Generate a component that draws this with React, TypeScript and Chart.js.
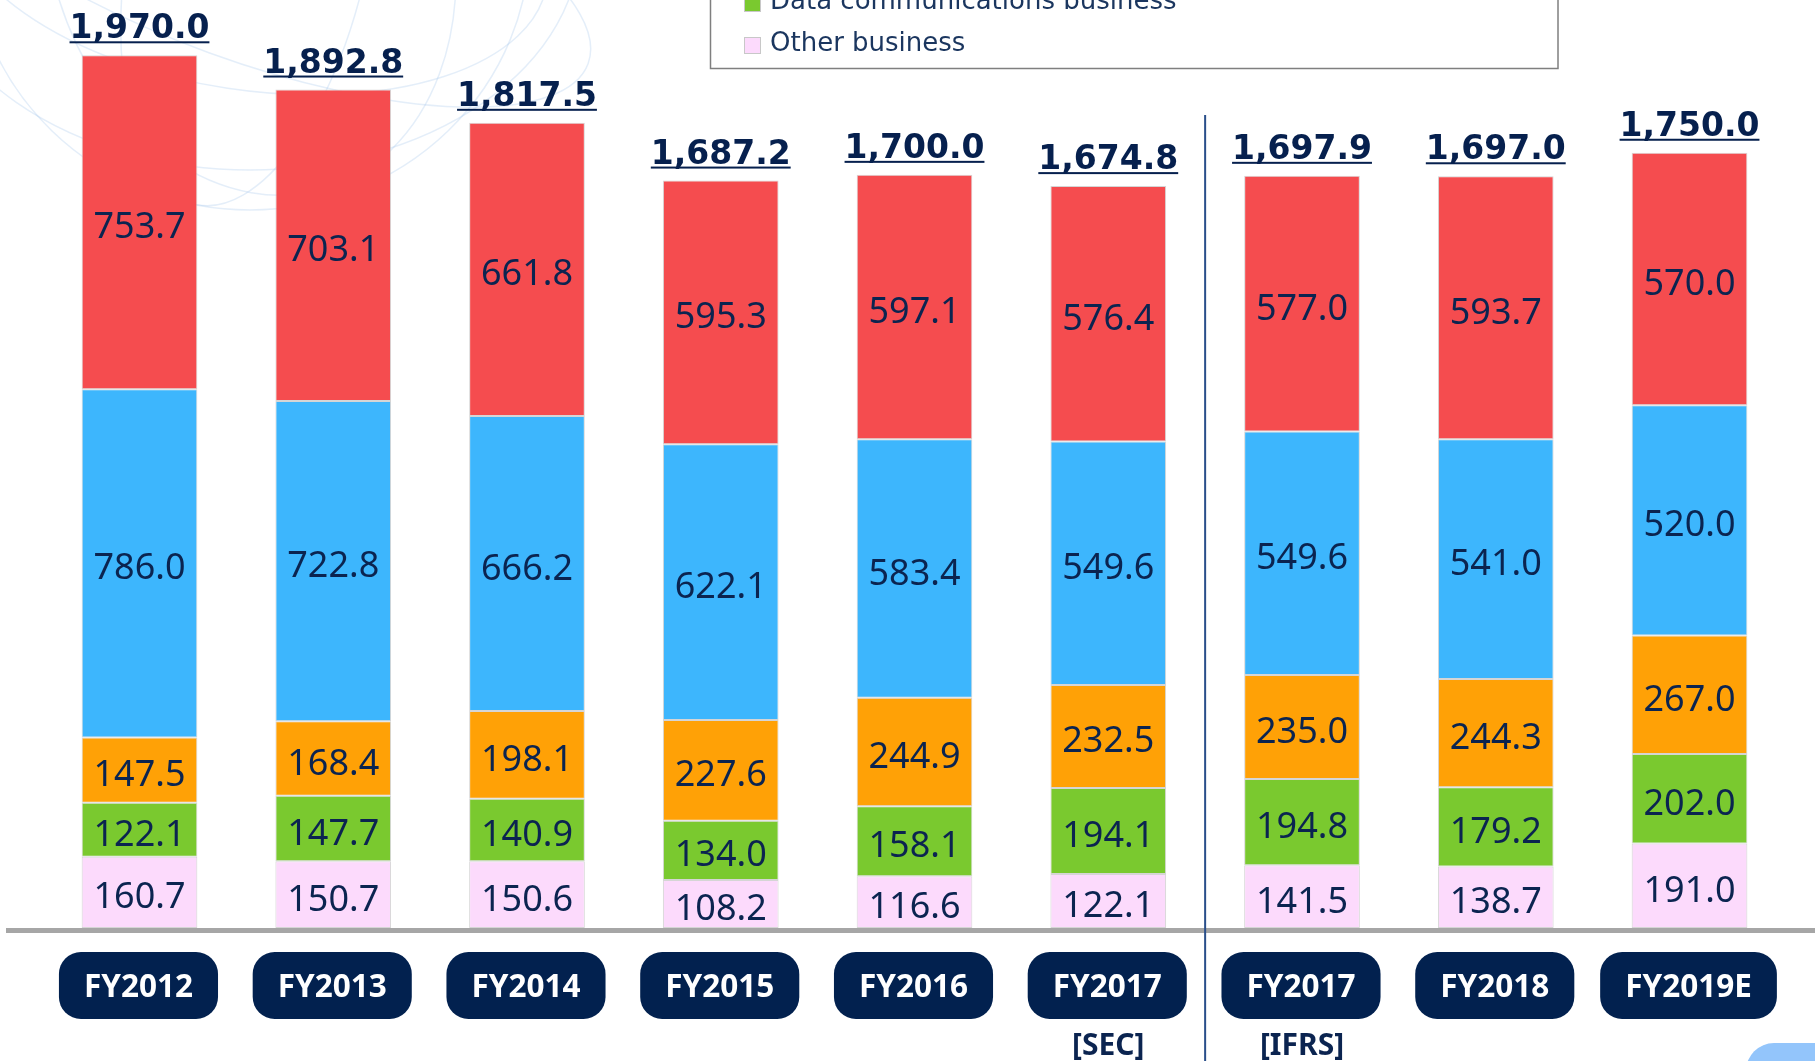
import React, { useEffect, useRef } from "react";
import { Chart, registerables } from "chart.js";

Chart.register(...registerables);

const categories = ["FY2012", "FY2013", "FY2014", "FY2015", "FY2016", "FY2017", "FY2017", "FY2018", "FY2019E"];
const subLabels = ["", "", "", "", "", "[SEC]", "[IFRS]", "", ""];

const otherBusiness = [160.7, 150.7, 150.6, 108.2, 116.6, 122.1, 141.5, 138.7, 191.0];
const dataComm = [122.1, 147.7, 140.9, 134.0, 158.1, 194.1, 194.8, 179.2, 202.0];
const longDistance = [147.5, 168.4, 198.1, 227.6, 244.9, 232.5, 235.0, 244.3, 267.0];
const regional = [786.0, 722.8, 666.2, 622.1, 583.4, 549.6, 549.6, 541.0, 520.0];
const mobile = [753.7, 703.1, 661.8, 595.3, 597.1, 576.4, 577.0, 593.7, 570.0];
const totals = [1970.0, 1892.8, 1817.5, 1687.2, 1700.0, 1674.8, 1697.9, 1697.0, 1750.0];

const seriesNames = [
  "Other business",
  "Data communications business",
  "Long distance and international communications business",
  "Regional communications business",
  "Mobile communications business",
];
const seriesColors = ["#fcdafc", "#7ac92f", "#ffa106", "#3db6fd", "#f54c4f"];

const NAVY = "#0b2450";

function roundRectPath(ctx: CanvasRenderingContext2D, x: number, y: number, w: number, h: number, r: number) {
  ctx.beginPath();
  ctx.moveTo(x + r, y);
  ctx.lineTo(x + w - r, y);
  ctx.arcTo(x + w, y, x + w, y + r, r);
  ctx.lineTo(x + w, y + h - r);
  ctx.arcTo(x + w, y + h, x + w - r, y + h, r);
  ctx.lineTo(x + r, y + h);
  ctx.arcTo(x, y + h, x, y + h - r, r);
  ctx.lineTo(x, y + r);
  ctx.arcTo(x, y, x + r, y, r);
  ctx.closePath();
}

const fmt = (v: number) =>
  v.toLocaleString("en-US", { minimumFractionDigits: 1, maximumFractionDigits: 1 });

const overlayPlugin = {
  id: "overlay",
  beforeDraw(chart: any) {
    const ctx: CanvasRenderingContext2D = chart.ctx;
    ctx.save();
    ctx.strokeStyle = "rgba(165,198,235,0.3)";
    ctx.lineWidth = 1.5;
    const arcs = [
      [250, -60, 330, 230, 0],
      [250, -60, 300, 150, 0.15],
      [250, -60, 200, 260, -0.3],
      [250, -60, 360, 120, 0.35],
      [250, -60, 120, 270, 0.2],
      [250, -60, 280, 270, 0],
    ];
    arcs.forEach(([cx, cy, rx, ry, rot]) => {
      ctx.beginPath();
      ctx.ellipse(cx, cy, rx, ry, rot, 0, Math.PI * 2);
      ctx.stroke();
    });
    ctx.restore();
  },
  afterDatasetsDraw(chart: any) {
    const ctx: CanvasRenderingContext2D = chart.ctx;
    const xScale = chart.scales.x;
    const nDs = chart.data.datasets.length;
    ctx.save();

    // segment labels
    ctx.font = "36px 'Noto Sans'";
    ctx.fillStyle = NAVY;
    ctx.textAlign = "center";
    ctx.textBaseline = "alphabetic";
    for (let d = 0; d < nDs; d++) {
      const meta = chart.getDatasetMeta(d);
      const data = chart.data.datasets[d].data as number[];
      meta.data.forEach((bar: any, i: number) => {
        const cy = (bar.y + bar.base) / 2;
        ctx.fillText(fmt(data[i]), bar.x, cy + 16);
      });
    }

    // totals
    const topMeta = chart.getDatasetMeta(nDs - 1);
    ctx.font = "bold 33px 'DejaVu Sans'";
    ctx.fillStyle = "#06204e";
    topMeta.data.forEach((bar: any, i: number) => {
      const txt = fmt(totals[i]);
      const base = bar.y - 17;
      ctx.fillText(txt, bar.x, base);
      const w = ctx.measureText(txt).width;
      ctx.fillRect(bar.x - w / 2, base + 3, w, 2);
    });

    // baseline
    const bottom = chart.chartArea.bottom;
    ctx.fillStyle = "#a6a6a6";
    ctx.fillRect(6, bottom, chart.width - 6, 5);

    // divider between SEC and IFRS
    const xDiv = (xScale.getPixelForValue(5) + xScale.getPixelForValue(6)) / 2;
    ctx.fillStyle = "#2a4f8a";
    ctx.fillRect(xDiv - 1, 115, 2, chart.height - 115);

    // category pills
    ctx.font = "bold 31.5px 'Noto Sans'";
    categories.forEach((c, i) => {
      const cx = xScale.getPixelForValue(i) - 1;
      const w = ctx.measureText(c).width + 50;
      ctx.fillStyle = "#02214f";
      roundRectPath(ctx, cx - w / 2, 952, w, 67, 22);
      ctx.fill();
      ctx.fillStyle = "#ffffff";
      ctx.fillText(c, cx, 997);
    });

    // sub labels
    ctx.font = "bold 30px 'Noto Sans'";
    ctx.fillStyle = NAVY;
    subLabels.forEach((s, i) => {
      if (!s) return;
      ctx.fillText(s, xScale.getPixelForValue(i), 1055);
    });

    // legend (cropped at top)
    ctx.fillStyle = "#ffffff";
    ctx.fillRect(710, -300, 848, 368);
    ctx.strokeStyle = "#7f7f7f";
    ctx.lineWidth = 1.5;
    ctx.strokeRect(710.5, -300, 847.5, 368.5);
    ctx.font = "26px 'DejaVu Sans'";
    ctx.textAlign = "left";
    for (let k = 0; k < seriesNames.length; k++) {
      const rowBase = 51 - 42 * k;
      ctx.fillStyle = seriesColors[k];
      ctx.fillRect(744, rowBase - 14, 17, 17);
      ctx.strokeStyle = "#c8c8c8";
      ctx.lineWidth = 1;
      ctx.strokeRect(744.5, rowBase - 13.5, 16, 16);
      ctx.fillStyle = "#1b365f";
      ctx.fillText(seriesNames[k], 770, rowBase);
    }

    // corner decoration
    ctx.fillStyle = "#93c5fb";
    roundRectPath(ctx, 1746, 1043, 200, 100, 28);
    ctx.fill();

    ctx.restore();
  },
};

export default function App() {
  const ref = useRef<HTMLCanvasElement | null>(null);
  useEffect(() => {
    if (!ref.current) return;
    const series = [otherBusiness, dataComm, longDistance, regional, mobile];
    const chart = new Chart(ref.current, {
      type: "bar",
      data: {
        labels: categories,
        datasets: series.map((vals, k) => ({
          label: seriesNames[k],
          data: vals,
          backgroundColor: seriesColors[k],
          borderColor: "rgba(195,195,195,0.7)",
          borderWidth: 1,
          borderSkipped: false,
          barPercentage: 0.597,
          categoryPercentage: 1,
        })),
      },
      options: {
        responsive: false,
        animation: false,
        layout: { padding: { left: 42.6, right: 28.6, top: 42, bottom: 133 } },
        plugins: { legend: { display: false }, tooltip: { enabled: false } },
        scales: {
          x: { stacked: true, display: false },
          y: { stacked: true, display: false, min: 0, max: 2000 },
        },
      },
      plugins: [overlayPlugin],
    });
    return () => chart.destroy();
  }, []);
  return (
    <div style={{ position: "fixed", left: 0, top: 0, width: 1815, height: 1061, background: "#ffffff" }}>
      <canvas ref={ref} width={1815} height={1061} style={{ display: "block" }} />
    </div>
  );
}
